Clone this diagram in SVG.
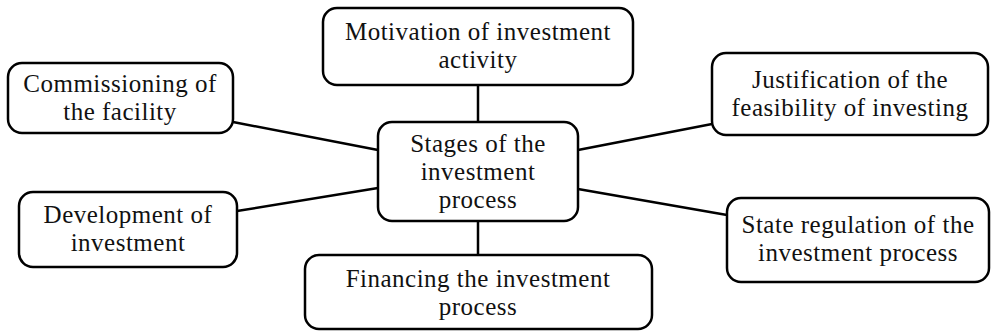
<svg xmlns="http://www.w3.org/2000/svg" width="992" height="331" viewBox="0 0 992 331">
<style>
.box{fill:#fff;stroke:#000;stroke-width:2.5}
.t{font-family:"Liberation Serif","Times New Roman",serif;font-size:25px;letter-spacing:0.5px;fill:#111;text-anchor:middle}
.c{stroke:#000;stroke-width:2.5;fill:none}
</style>
<rect width="992" height="331" fill="#fff"/>
<g id="connectors">
<line class="c" x1="478" y1="85" x2="478" y2="122"/>
<line class="c" x1="478" y1="221" x2="478" y2="255"/>
<line class="c" x1="233" y1="122" x2="378" y2="150"/>
<line class="c" x1="237" y1="211" x2="378" y2="188"/>
<line class="c" x1="578" y1="150" x2="712" y2="124"/>
<line class="c" x1="578" y1="189" x2="727" y2="215"/>
</g>
<g id="center">
<rect class="box" x="378" y="122" width="200" height="99" rx="14"/>
<text class="t" x="478" y="152">Stages of the</text>
<text class="t" x="478" y="180">investment</text>
<text class="t" x="478" y="208">process</text>
</g>
<g id="motivation">
<rect class="box" x="323" y="8" width="310" height="77" rx="14"/>
<text class="t" x="478" y="40">Motivation of investment</text>
<text class="t" x="478" y="68">activity</text>
</g>
<g id="commissioning">
<rect class="box" x="8" y="63" width="225" height="70" rx="14"/>
<text class="t" x="120" y="92">Commissioning of</text>
<text class="t" x="120" y="120">the facility</text>
</g>
<g id="development">
<rect class="box" x="19" y="192" width="218" height="75" rx="14"/>
<text class="t" x="128" y="223">Development of</text>
<text class="t" x="128" y="251">investment</text>
</g>
<g id="justification">
<rect class="box" x="712" y="53" width="276" height="82" rx="14"/>
<text class="t" x="850" y="88">Justification of the</text>
<text class="t" x="850" y="116">feasibility of investing</text>
</g>
<g id="state">
<rect class="box" x="727" y="198" width="262" height="84" rx="14"/>
<text class="t" x="858" y="233">State regulation of the</text>
<text class="t" x="858" y="261">investment process</text>
</g>
<g id="financing">
<rect class="box" x="305" y="255" width="347" height="74" rx="14"/>
<text class="t" x="478" y="287">Financing the investment</text>
<text class="t" x="478" y="315">process</text>
</g>
</svg>
